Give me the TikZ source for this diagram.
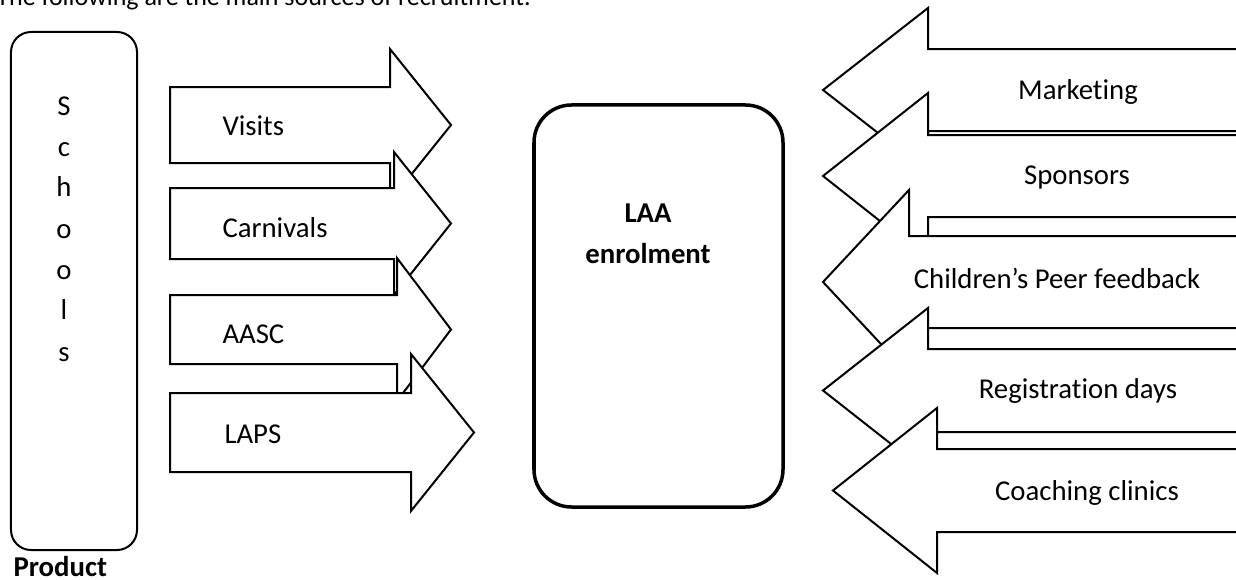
\documentclass[tikz,border=0pt]{standalone}
\usepackage{fontspec}
\setmainfont{Carlito}[Ligatures = NoCommon]
\usepackage{tikz}
\usetikzlibrary{calc}
\tikzset{>=latex}
\tikzset{
  blockarrow/.style = {draw, fill = white, line width = 0.8pt, line join = miter},
  lbl/.style = {font = \fontsize{11.5}{13}\selectfont, inner sep = 0},
  boldlbl/.style = {font = \fontsize{11.5}{13}\selectfont\bfseries, inner sep = 0}
}
% tail x, body top, body bottom, head base x, head top, tip x
\newcommand{\blockarrow}[6]{\draw[blockarrow] (#1, #2) -- (#4, #2) -- (#4, #5) -- (#6, {(#2 + #3)/2}) -- (#4, {#2 + #3 - #5}) -- (#4, #3) -- (#1, #3) -- cycle;}

\begin{document}
\begin{tikzpicture}[x = 0.4pt, y = -0.4pt]
\useasboundingbox (0, 0) rectangle (1236, 580);
\clip (0, 0) rectangle (1236, 580);
\node[inner sep = 0, font = \fontsize{10.4}{12}\selectfont, anchor = base west] (intro) at (-4, 6) {The following are the main sources of recruitment.};

\node[draw, rounded corners = 8pt, line width = 0.8pt, minimum width = 50.4pt, minimum height = 207.2pt, inner sep = 0] (schools) at (74, 291) {};
\foreach \ch [count = \i] in {S,c,h,o,o,l,s}
  \node[lbl, anchor = base] (schools-\i) at (64, {115 + 41*(\i - 1)}) {\ch};
\node[boldlbl, anchor = base west] (product) at (13, 576) {Product};

\blockarrow{170}{87}{163}{390}{49}{451}
\node[lbl, anchor = base west] (visits) at (222, 135) {Visits};
\blockarrow{170}{188}{259}{394}{152}{451}
\node[lbl, anchor = base west] (carnivals) at (222, 237) {Carnivals};
\blockarrow{170}{295}{364}{397}{258}{451}
\node[lbl, anchor = base west] (aasc) at (222, 343) {AASC};
\blockarrow{170}{393}{472}{411}{354}{474}
\node[lbl, anchor = base west] (laps) at (224, 443) {LAPS};

\node[draw, rounded corners = 15pt, line width = 1.4pt, minimum width = 99.6pt, minimum height = 160.8pt, inner sep = 0] (enrol) at (658.5, 306) {};
\node[boldlbl, anchor = base] (laa) at (648, 222) {LAA};
\node[boldlbl, anchor = base] (enrolment) at (648, 263) {enrolment};

\blockarrow{1250}{49}{131}{928}{8}{823}
\node[lbl, anchor = base] (marketing) at (1078, 100) {Marketing};
\blockarrow{1250}{135}{217}{928}{93}{823}
\node[lbl, anchor = base] (sponsors) at (1077, 185) {Sponsors};
\blockarrow{1250}{236}{328}{909}{190}{823}
\node[lbl, anchor = base] (peer) at (1057, 288) {Children’s Peer feedback};
\blockarrow{1250}{349}{432}{928}{308}{823}
\node[lbl, anchor = base] (registration) at (1078, 398) {Registration days};
\blockarrow{1250}{449}{532}{937}{408}{833}
\node[lbl, anchor = base] (coaching) at (1087, 500) {Coaching clinics};
\end{tikzpicture}
\end{document}
